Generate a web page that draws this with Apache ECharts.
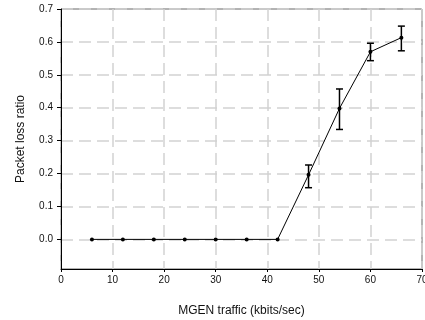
<!DOCTYPE html>
<html>
<head>
<meta charset="utf-8">
<script src="https://cdn.jsdelivr.net/npm/echarts@6/dist/echarts.min.js"></script>
<style>
  html, body { margin: 0; padding: 0; background: #fff; }
  #chart { width: 425px; height: 320px; }
</style>
</head>
<body>
<div id="chart"></div>
<script>
// traffic (kbits/sec) and mean packet loss ratio
const traffic = [6, 12, 18, 24, 30, 36, 42, 48, 54, 60, 66]
const lossRatio = [0, 0, 0, 0, 0, 0, 0, 0.196, 0.398, 0.570, 0.613]
// error bars (only where they are visible)
const errTraffic = [48, 54, 60, 66]
const errLow = [0.157, 0.334, 0.543, 0.573]
const errHigh = [0.226, 0.457, 0.596, 0.648]
const yTicks = [0, 0.1, 0.2, 0.3, 0.4, 0.5, 0.6, 0.7]

const chart = echarts.init(document.getElementById('chart'))

const font = 'Liberation Sans, Arial, sans-serif'
const dashed = { color: '#d2d2d2', width: 1.5, type: [12, 6] }

chart.setOption({
  animation: false,
  grid: {
    left: 61,
    right: 3,
    top: 9,
    bottom: 51,
    outerBoundsMode: 'none',
    containLabel: false,
    show: true,
    borderColor: '#666',
    borderWidth: 1
  },
  xAxis: {
    type: 'value',
    min: 0,
    max: 70,
    interval: 10,
    name: 'MGEN traffic (kbits/sec)',
    nameLocation: 'middle',
    nameGap: 36,
    nameTextStyle: { fontFamily: font, fontSize: 12, color: '#111' },
    axisLine: { onZero: false, lineStyle: { color: '#000', width: 1 } },
    axisTick: { show: true, length: 3, lineStyle: { color: '#000' } },
    axisLabel: { fontFamily: font, fontSize: 10, color: '#111', margin: 6 },
    splitLine: { show: true, lineStyle: dashed }
  },
  yAxis: {
    type: 'value',
    min: -0.09,
    max: 0.7,
    name: 'Packet loss ratio',
    nameLocation: 'middle',
    nameGap: 34,
    nameTextStyle: { fontFamily: font, fontSize: 12, color: '#111' },
    axisLine: { show: true, onZero: false, lineStyle: { color: '#000', width: 1 } },
    axisTick: { show: true, length: 4, customValues: yTicks, lineStyle: { color: '#000' } },
    axisLabel: {
      fontFamily: font,
      fontSize: 10,
      color: '#111',
      margin: 8,
      customValues: yTicks,
      formatter: function(v) {
        return v.toFixed(1)
      }
    },
    splitLine: { show: true, lineStyle: dashed }
  },
  series: [
    {
      type: 'line',
      data: traffic.map(function(x, i) {
        return [x, lossRatio[i]]
      }),
      symbol: 'circle',
      symbolSize: 4,
      itemStyle: { color: '#000' },
      lineStyle: { color: '#000', width: 1 },
      z: 3
    },
    {
      type: 'custom',
      data: errTraffic.map(function(x, i) {
        return [x, errLow[i], errHigh[i]]
      }),
      renderItem: function(params, api) {
        const lo = api.coord([api.value(0), api.value(1)])
        const hi = api.coord([api.value(0), api.value(2)])
        const half = 3.5
        const style = { stroke: '#000', lineWidth: 1.5 }
        return {
          type: 'group',
          children: [
            { type: 'line', shape: { x1: lo[0], y1: lo[1], x2: hi[0], y2: hi[1] }, style: style },
            { type: 'line', shape: { x1: lo[0] - half, y1: lo[1], x2: lo[0] + half, y2: lo[1] }, style: style },
            { type: 'line', shape: { x1: hi[0] - half, y1: hi[1], x2: hi[0] + half, y2: hi[1] }, style: style }
          ]
        }
      },
      z: 4
    }
  ]
})
</script>
</body>
</html>
